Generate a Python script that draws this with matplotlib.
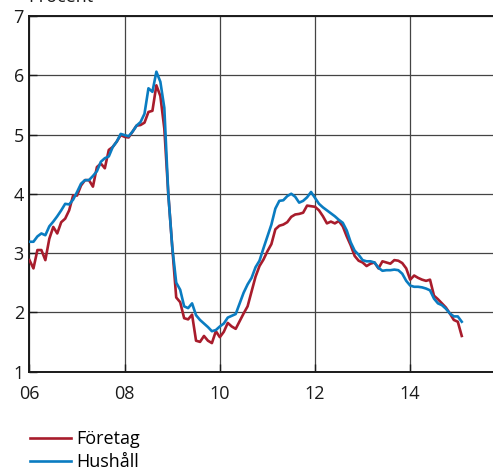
import numpy as np
import matplotlib
matplotlib.use("Agg")
import matplotlib.pyplot as plt

plt.rcParams['font.family'] = ['Open Sans', 'DejaVu Sans']

# månadsdata jan 2006 - feb 2015, procent
foretag = [
    2.88, 2.74, 3.05, 3.05, 2.88, 3.24, 3.44, 3.33, 3.52, 3.58, 3.72, 3.97,
    3.97, 4.14, 4.23, 4.23, 4.12, 4.45, 4.51, 4.43, 4.74, 4.79, 4.88, 4.99,
    4.96, 4.95, 5.05, 5.15, 5.16, 5.20, 5.38, 5.40, 5.83, 5.65, 5.10, 4.00,
    3.10, 2.25, 2.17, 1.90, 1.88, 1.96, 1.52, 1.50, 1.60, 1.52, 1.48, 1.68,
    1.58, 1.67, 1.82, 1.76, 1.72, 1.85, 1.98, 2.10, 2.35, 2.60, 2.78, 2.89,
    3.03, 3.15, 3.40, 3.46, 3.48, 3.52, 3.61, 3.65, 3.66, 3.68, 3.80, 3.79,
    3.78, 3.72, 3.62, 3.50, 3.53, 3.50, 3.54, 3.45, 3.28, 3.13, 2.95, 2.87,
    2.84, 2.78, 2.82, 2.84, 2.74, 2.86, 2.84, 2.82, 2.88, 2.87, 2.83, 2.74,
    2.55, 2.62, 2.58, 2.55, 2.53, 2.55, 2.28, 2.22, 2.15, 2.08, 1.98, 1.87,
    1.84, 1.60,
]
hushall = [
    3.19, 3.19, 3.28, 3.33, 3.30, 3.45, 3.53, 3.62, 3.72, 3.83, 3.82, 3.90,
    4.03, 4.17, 4.23, 4.23, 4.30, 4.38, 4.54, 4.60, 4.63, 4.79, 4.88, 5.01,
    4.99, 4.97, 5.05, 5.15, 5.21, 5.35, 5.78, 5.72, 6.06, 5.89, 5.45, 4.00,
    3.10, 2.50, 2.38, 2.10, 2.07, 2.15, 1.95, 1.87, 1.81, 1.75, 1.68, 1.70,
    1.76, 1.81, 1.91, 1.94, 1.97, 2.15, 2.33, 2.47, 2.58, 2.76, 2.87, 3.08,
    3.28, 3.48, 3.75, 3.88, 3.89, 3.96, 4.00, 3.95, 3.85, 3.88, 3.94, 4.03,
    3.93, 3.83, 3.77, 3.72, 3.67, 3.62, 3.56, 3.51, 3.38, 3.18, 3.04, 2.97,
    2.88, 2.86, 2.86, 2.84, 2.75, 2.70, 2.71, 2.71, 2.72, 2.71, 2.65, 2.53,
    2.45, 2.43, 2.43, 2.42, 2.40, 2.37, 2.23, 2.15, 2.12, 2.06, 1.98, 1.93,
    1.93, 1.84,
]
ar_ticks = [2006, 2008, 2010, 2012, 2014]
ar_labels = ['06', '08', '10', '12', '14']

tid = 2006 + np.arange(len(foretag)) / 12

fig = plt.figure(figsize=(4.93, 4.72), dpi=100)
ax = fig.add_axes([0.0598, 0.2129, 0.9402, 0.7532])

l1, = ax.plot(tid, foretag, color='#a81c2c', lw=1.9, label='Företag', zorder=3)
l2, = ax.plot(tid, hushall, color='#0a7cc1', lw=1.9, label='Hushåll', zorder=3)

ax.set_xlim(2006, 2015.74)
ax.set_ylim(1, 7)
ax.set_xticks(ar_ticks)
ax.set_xticklabels(ar_labels)
ax.set_yticks(range(1, 8))

# rutnät och ticks
ax.grid(True, color='#444444', lw=0.9)
ax.set_axisbelow(True)
ax.tick_params(axis='both', direction='in', length=6, width=1, labelsize=13, colors='#1a1a1a')
ax.tick_params(axis='x', pad=10)
ax.tick_params(axis='y', pad=4)

for s in ['left', 'bottom', 'top']:
    ax.spines[s].set_linewidth(1.4)
    ax.spines[s].set_color('#1a1a1a')
ax.spines['right'].set_visible(False)

fig.text(0.058, 0.9958, 'Procent', fontsize=13, va='baseline', ha='left', color='#1a1a1a')

fig.legend(handles=[l1, l2], loc='upper left', bbox_to_anchor=(0.061, 0.089),
           frameon=False, fontsize=13, handlelength=2.25, handletextpad=0.3,
           labelspacing=0.3, borderpad=0, borderaxespad=0)

fig.savefig('out.png', dpi=100)
